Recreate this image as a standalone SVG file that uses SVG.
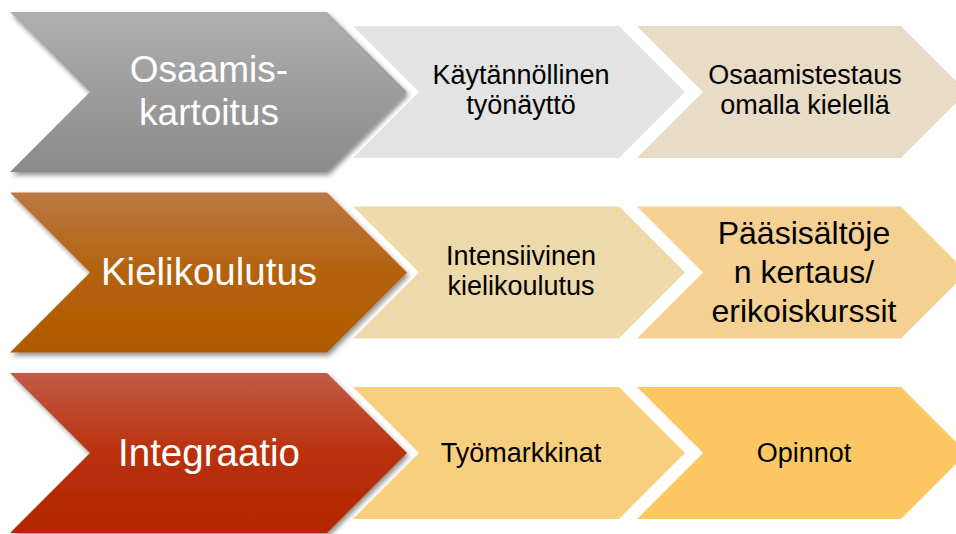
<svg xmlns="http://www.w3.org/2000/svg" width="956" height="534" viewBox="0 0 956 534">
<style>
  .big { font-family: "Liberation Sans", Arial, sans-serif; font-size: 37px; fill: #ffffff; text-anchor: middle; }
  .big2 { font-size: 38.5px; }
  .small { font-family: "Liberation Sans", Arial, sans-serif; font-size: 27px; fill: #000000; text-anchor: middle; }
  .large { font-family: "Liberation Sans", Arial, sans-serif; font-size: 32px; fill: #000000; text-anchor: middle; }
</style>
<defs>
  <linearGradient id="gGray" x1="0" y1="0" x2="0" y2="1">
    <stop offset="0" stop-color="#afafaf"/>
    <stop offset="1" stop-color="#8a8a8a"/>
  </linearGradient>
  <linearGradient id="gBrown" x1="0" y1="0" x2="0" y2="1">
    <stop offset="0" stop-color="#bb7844"/>
    <stop offset="0.5" stop-color="#b4620c"/>
    <stop offset="1" stop-color="#b05a00"/>
  </linearGradient>
  <linearGradient id="gRed" x1="0" y1="0" x2="0" y2="1">
    <stop offset="0" stop-color="#c15b47"/>
    <stop offset="0.5" stop-color="#b9310c"/>
    <stop offset="1" stop-color="#b32700"/>
  </linearGradient>
  <filter id="shadow" x="-10%" y="-10%" width="125%" height="125%">
    <feDropShadow dx="2" dy="3" stdDeviation="2.5" flood-color="#000000" flood-opacity="0.45"/>
  </filter>
</defs>

<!-- Row 1 -->
<g id="row1-step2">
  <polygon points="637,26 901,26 967,92 901,158 637,158 703,92" fill="#e8dcc6"/>
  <text class="small" x="805" y="84">Osaamistestaus</text>
  <text class="small" x="805" y="114">omalla kielellä</text>
</g>
<g id="row1-step1">
  <polygon points="353,26 619,26 685,92 619,158 353,158 419,92" fill="#e3e3e3"/>
  <text class="small" x="521" y="84">Käytännöllinen</text>
  <text class="small" x="521" y="114">työnäyttö</text>
</g>
<g id="row1-main">
  <polygon points="10,12 327,12 407,92 327,172 10,172 90,92" fill="url(#gGray)" filter="url(#shadow)"/>
  <text class="big" x="209" y="82">Osaamis-</text>
  <text class="big" x="209" y="125">kartoitus</text>
</g>

<!-- Row 2 -->
<g id="row2-step2">
  <polygon points="637,206.5 901,206.5 967,272.5 901,338.5 637,338.5 703,272.5" fill="#f4d193"/>
  <text class="large" x="804" y="244">Pääsisältöje</text>
  <text class="large" x="804" y="283">n kertaus/</text>
  <text class="large" x="804" y="322">erikoiskurssit</text>
</g>
<g id="row2-step1">
  <polygon points="353,206.5 619,206.5 685,272.5 619,338.5 353,338.5 419,272.5" fill="#eed9ab"/>
  <text class="small" x="521" y="265">Intensiivinen</text>
  <text class="small" x="521" y="295">kielikoulutus</text>
</g>
<g id="row2-main">
  <polygon points="10,192.5 327,192.5 407,272.5 327,352.5 10,352.5 90,272.5" fill="url(#gBrown)" filter="url(#shadow)"/>
  <text class="big big2" x="209" y="285">Kielikoulutus</text>
</g>

<!-- Row 3 -->
<g id="row3-step2">
  <polygon points="637,387 901,387 967,453 901,519 637,519 703,453" fill="#fdc764"/>
  <text class="small" x="804" y="462">Opinnot</text>
</g>
<g id="row3-step1">
  <polygon points="353,387 619,387 685,453 619,519 353,519 419,453" fill="#f8cf7f"/>
  <text class="small" x="521" y="462">Työmarkkinat</text>
</g>
<g id="row3-main">
  <polygon points="10,373 327,373 407,453 327,533 10,533 90,453" fill="url(#gRed)" filter="url(#shadow)"/>
  <text class="big big2" x="209" y="466">Integraatio</text>
</g>
</svg>
